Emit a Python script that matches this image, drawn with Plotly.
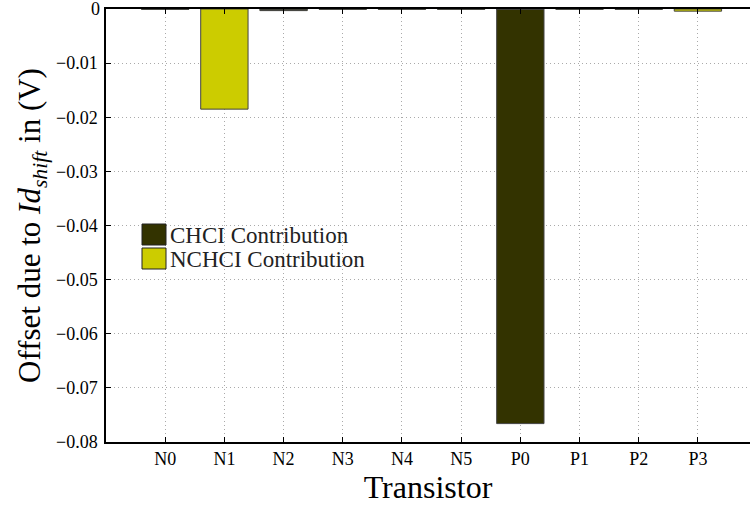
import plotly.graph_objects as go

transistors = ["N0", "N1", "N2", "N3", "N4", "N5", "P0", "P1", "P2", "P3"]
chci = [0, 0, -0.0002, 0, 0, 0, -0.0766, 0, 0, 0]
nchci = [-0.00005, -0.0185, -0.0001, -0.00005, -0.00005, -0.00005, 0, -0.00005, -0.00005, -0.0004]
y_ticks = [-0.01, -0.02, -0.03, -0.04, -0.05, -0.06, -0.07, -0.08]
y_labels = ["\u22120.01", "\u22120.02", "\u22120.03", "\u22120.04", "\u22120.05", "\u22120.06", "\u22120.07", "\u22120.08"]
series_names = ["CHCI Contribution", "NCHCI Contribution"]
series_colors = ["#333300", "#cccc00"]

serif = "Liberation Serif"

fig = go.Figure()
for vals, name, col in zip([chci, nchci], series_names, series_colors):
    fig.add_trace(go.Bar(x=transistors, y=vals, name=name,
                         marker=dict(color=col, line=dict(color="#444444", width=1)),
                         width=0.8, showlegend=False))

# manual legend (MATLAB style, no border)
L, T = 142, 224  # pixel positions inside 750x507
plot_l, plot_t, plot_w, plot_h = 106, 9, 644, 433
def px(x):
    return (x - plot_l) / plot_w
def py(y):
    return 1 - (y - plot_t) / plot_h
for i, (name, col) in enumerate(zip(series_names, series_colors)):
    top = T + i * 24
    fig.add_shape(type="rect", xref="paper", yref="paper",
                  x0=px(L), x1=px(L + 24), y0=py(top), y1=py(top + 21),
                  fillcolor=col, line=dict(color="#222222", width=1))
    fig.add_annotation(xref="paper", yref="paper", x=px(L + 27), y=py(top + 11),
                       text=name, showarrow=False, xanchor="left", yanchor="middle",
                       font=dict(family=serif, size=23, color="#222222"),
                       borderpad=0)

# top "0" tick label
fig.add_annotation(xref="paper", yref="y", x=0, y=0, text="0", showarrow=False,
                   xanchor="right", yanchor="middle", xshift=-4,
                   font=dict(family=serif, size=18, color="black"))

fig.update_layout(
    width=750, height=507,
    barmode="relative",
    plot_bgcolor="white", paper_bgcolor="white",
    margin=dict(l=106, r=0, t=9, b=65),
    font=dict(family=serif, color="black", size=18),
    showlegend=False,
    xaxis=dict(
        type="category", range=[-1, 9.88],
        showline=True, linecolor="black", linewidth=1.5, mirror="ticks",
        ticks="inside", ticklen=5, tickcolor="black",
        showgrid=True, gridcolor="#aaaaaa", griddash="1px,3px", gridwidth=1,
        tickfont=dict(family=serif, size=18),
        title=dict(text="Transistor", font=dict(family=serif, size=32), standoff=4),
    ),
    yaxis=dict(
        range=[-0.08, 0],
        tickvals=y_ticks, ticktext=y_labels,
        showline=True, linecolor="black", linewidth=1.5,
        ticks="inside", ticklen=5, tickcolor="black",
        showgrid=True, gridcolor="#aaaaaa", griddash="1px,3px", gridwidth=1,
        zeroline=False,
        tickfont=dict(family=serif, size=18),
        ticklabelstandoff=3,
        title=dict(text="Offset due to <i>Id</i><sub><i>shift</i></sub> in (V)",
                   font=dict(family=serif, size=31), standoff=6),
    ),
)

fig.write_html("out.html")
